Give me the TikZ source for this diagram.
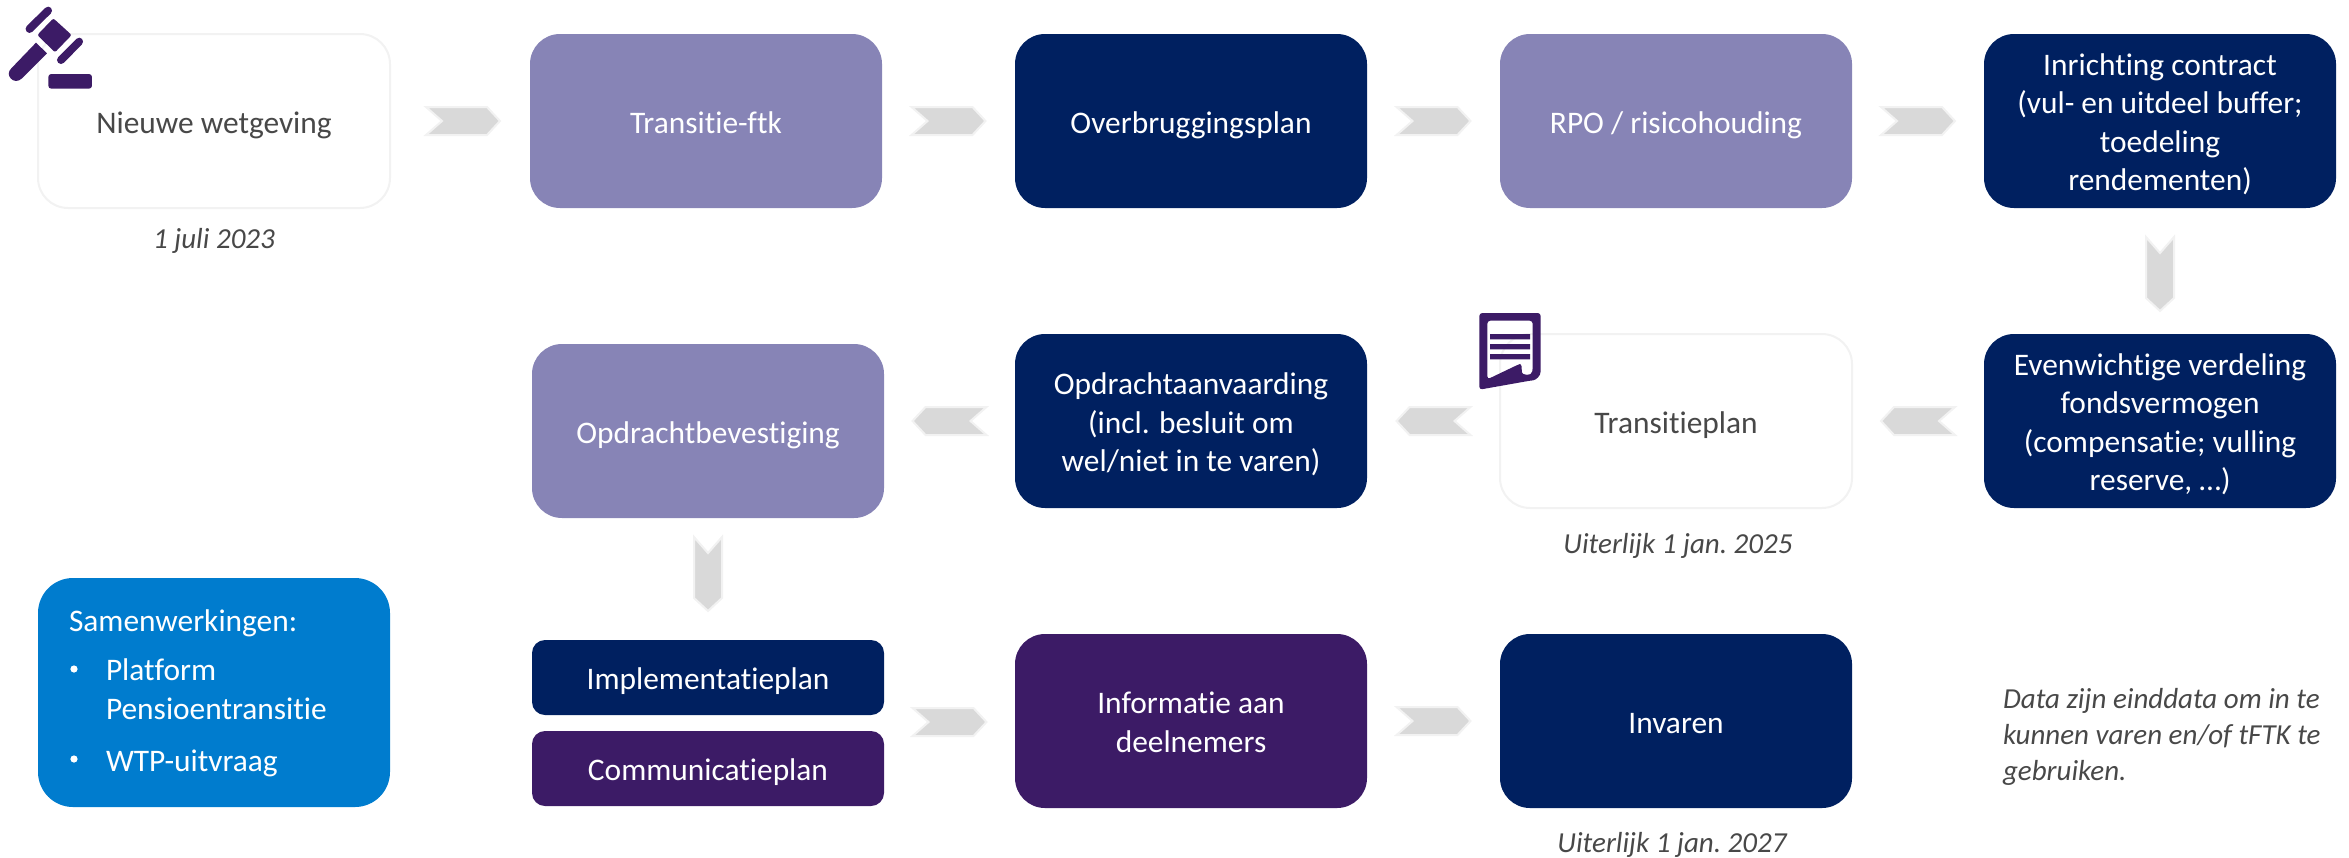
\documentclass[tikz,border=0pt]{standalone}
\usepackage{fontspec}
\setmainfont{Carlito}[Ligatures=NoCommon]
\usetikzlibrary{calc}
\definecolor{navy}{HTML}{002060}
\definecolor{lav}{HTML}{8784B6}
\definecolor{paars}{HTML}{3C1B66}
\definecolor{blauw}{HTML}{007CCE}
\definecolor{tekst}{HTML}{484848}
\definecolor{rand}{HTML}{F2F2F2}
\definecolor{pijl}{HTML}{D9D9D9}
\newcommand{\Zt}{\rule{0pt}{32pt}}
\newcommand{\Zb}{\rule[-8pt]{0pt}{0pt}}
\tikzset{
  every node/.style={inner sep=0pt,outer sep=0pt},
  box/.style={rounded corners=30pt,minimum width=352pt,minimum height=174pt,align=center,anchor=north west,text=white,font=\fontsize{31.4}{38.5}\selectfont},
  navybox/.style={box,fill=navy},
  lavbox/.style={box,fill=lav},
  paarsbox/.style={box,fill=paars},
  witbox/.style={box,fill=white,draw=rand,line width=2pt,text=tekst},
  smalbox/.style={rounded corners=13pt,minimum height=75pt,minimum width=352pt},
  samentekst/.style={anchor=base west,text=white,font=\fontsize{31.4}{38.5}\selectfont},
  datum/.style={text=tekst,font=\fontsize{29}{36}\itshape\selectfont\frenchspacing,align=left},
  chevron/.style={fill=pijl,draw=rand,line width=2pt,line join=miter},
  icoon/.style={fill=paars,draw=none}
}
% \chev{from}{to}{angle}{offset along the axis}
\newcommand{\chev}[4]{\draw[chevron,shift={($#1!.5!#2$)},rotate=#3,xshift=#4 pt]
  (-37,14) -- (24,14) -- (37,0) -- (24,-14) -- (-37,-14) -- (-21,0) -- cycle;}
\begin{document}
\begin{tikzpicture}[x=1pt,y=-1pt]
\useasboundingbox (0,0) rectangle (2349,857);
% row 1
\node[witbox] (wet) at (38,34) {\Zt Nieuwe wetgeving\Zb};
\node[lavbox] (ftk) at (530,34) {\Zt Transitie-ftk\Zb};
\node[navybox] (over) at (1015,34) {\Zt Overbruggingsplan\Zb};
\node[lavbox] (rpo) at (1500,34) {\Zt RPO / risicohouding\Zb};
\node[navybox] (contract) at (1984,34) {\Zt Inrichting contract\\(vul- en uitdeel buffer;\\toedeling\\rendementen)\Zb};
% row 2
\node[navybox] (even) at (1984,334) {\Zt Evenwichtige verdeling\\fondsvermogen\\(compensatie; vulling\\reserve, …)\Zb};
\node[witbox] (trans) at (1500,334) {\Zt Transitieplan\Zb};
\node[navybox] (aanv) at (1015,334) {\Zt Opdrachtaanvaarding\\(incl. besluit om\\wel/niet in te varen)\Zb};
\node[lavbox] (best) at (532,344) {\Zt Opdrachtbevestiging\Zb};
% row 3
\node[navybox,smalbox] (impl) at (532,640) {\Zt Implementatieplan\Zb};
\node[paarsbox,smalbox] (comm) at (532,731) {\Zt Communicatieplan\Zb};
\node[paarsbox] (info) at (1015,634) {\Zt Informatie aan\\deelnemers\Zb};
\node[navybox] (inv) at (1500,634) {\Zt Invaren\Zb};
% samenwerkingen
\node[box,fill=blauw,minimum height=229pt,rounded corners=35pt] (samen) at (38,578) {};
\node[samentekst] (s1) at (69,631) {Samenwerkingen:};
\node[samentekst] (s2) at (106,680) {Platform};
\node[samentekst] (s3) at (106,719) {Pensioentransitie};
\node[samentekst] (s4) at (106,771) {WTP-uitvraag};
\fill[white] (74,669) circle (3.6pt) (74,759) circle (3.6pt);
% captions
\node[datum] (d1) at (214,241) {1 juli 2023};
\node[datum] (d2) at (1678,546) {Uiterlijk 1 jan. 2025};
\node[datum] (d3) at (1672,845) {Uiterlijk 1 jan. 2027};
\node[datum,anchor=north west] (note) at (2003,688) {Data zijn einddata om in te\\kunnen varen en/of tFTK te\\gebruiken.};
% chevrons
\chev{(wet.east)}{(ftk.west)}{0}{3}
\chev{(ftk.east)}{(over.west)}{0}{0}
\chev{(over.east)}{(rpo.west)}{0}{0}
\chev{(rpo.east)}{(contract.west)}{0}{0}
\chev{(contract.south)}{(even.north)}{-90}{3}
\chev{(even.west)}{(trans.east)}{180}{0}
\chev{(trans.west)}{(aanv.east)}{180}{0}
\chev{(aanv.west)}{(aanv.west-|best.east)}{180}{0}
\chev{(best.south)}{(impl.north)}{-90}{-5}
\chev{($(impl.south east)!.5!(comm.north east)$)}{(info.west)}{0}{0}
\chev{(info.east)}{(inv.west)}{0}{0}
% gavel icon
\begin{scope}[x=1/3*1pt,y=-1/3*1pt]
\fill[icoon,rounded corners=2pt] (160,55) -- (215,105) -- (165,157) -- (112,105) -- cycle;
\fill[icoon,rounded corners=4pt] (145,15) -- (161,32) -- (88,104) -- (72,86) -- cycle;
\fill[icoon,rounded corners=4pt] (238,108) -- (254,125) -- (183,197) -- (166,180) -- cycle;
\fill[icoon,rounded corners=3pt] (145,222) rectangle (276,266);
\fill[icoon] (108,128) -- (141,160) -- (66,235) .. controls (55,246) and (40,245) .. (32,235) .. controls (24,226) and (24,215) .. (34,205) -- cycle;
\end{scope}
% document icon
\begin{scope}[xshift=1440pt,yshift=-290pt,x=1/3*1pt,y=-1/3*1pt]
\fill[icoon,even odd rule,rounded corners=3pt]
  (118,69) -- (302,69) -- (302,235) .. controls (302,258) and (288,270) .. (270,272) -- (118,299) -- cycle
  (142,92) -- (142,268) -- (232,225) .. controls (240,222) and (245,228) .. (245,238) .. controls (246,255) and (275,260) .. (278,235) -- (278,92) -- cycle;
\fill[icoon] (150,132) rectangle (270,148) (150,162) rectangle (270,178) (150,192) rectangle (270,208);
\end{scope}
\end{tikzpicture}
\end{document}
